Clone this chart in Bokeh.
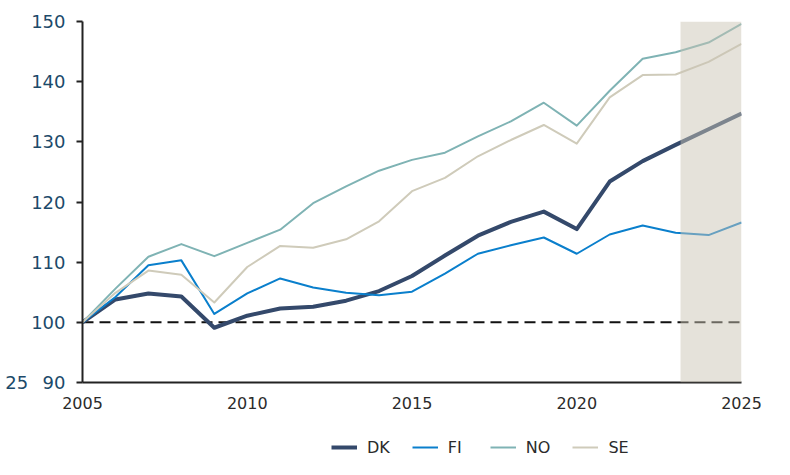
from bokeh.plotting import figure
from bokeh.layouts import column
from bokeh.models import (ColumnDataSource, BoxAnnotation, Span, Legend, LegendItem,
                          FixedTicker, Range1d)
from bokeh.embed import file_html
from bokeh.resources import INLINE

years = [2005, 2006, 2007, 2008, 2009, 2010, 2011, 2012, 2013, 2014, 2015,
         2016, 2017, 2018, 2019, 2020, 2021, 2022, 2023, 2024, 2025]
DK = [100, 103.8, 104.8, 104.3, 99.1, 101.1, 102.3, 102.6, 103.6, 105.2, 107.7,
      111.1, 114.4, 116.7, 118.4, 115.5, 123.4, 126.8, 129.5, 132.1, 134.7]
FI = [100, 104.2, 109.5, 110.3, 101.4, 104.8, 107.3, 105.8, 104.9, 104.5, 105.1,
      108.1, 111.4, 112.8, 114.1, 111.4, 114.6, 116.1, 114.9, 114.5, 116.6]
NO = [100, 105.6, 110.9, 113.0, 111.0, 113.2, 115.4, 119.8, 122.6, 125.2, 127.0,
      128.2, 130.9, 133.4, 136.5, 132.7, 138.5, 143.8, 144.9, 146.5, 149.6]
SE = [100, 104.9, 108.6, 107.9, 103.3, 109.2, 112.7, 112.4, 113.8, 116.8, 121.8,
      124.0, 127.6, 130.3, 132.8, 129.7, 137.4, 141.1, 141.2, 143.3, 146.3]
series_names = ["DK", "FI", "NO", "SE"]
colors = ["#34496b", "#0a7fcc", "#7fb3b4", "#cfcbba"]
widths = [4, 2, 2, 2]
forecast_start, forecast_end = 2023.15, 2025
baseline = 100
x_ticks = [2005, 2010, 2015, 2020, 2025]
y_ticks = [90, 100, 110, 120, 130, 140, 150]
stray_label = "25"

font = "DejaVu Sans"
src = ColumnDataSource(dict(x=years, DK=DK, FI=FI, NO=NO, SE=SE))

# ---------- main chart ----------
p = figure(width=774, height=420, output_backend="svg", toolbar_location=None,
           x_range=Range1d(2005, 2025), y_range=Range1d(90, 150),
           min_border_left=82, min_border_right=33, min_border_top=21,
           min_border_bottom=38)
p.background_fill_color = "white"
p.border_fill_color = "white"
p.outline_line_color = None
p.xgrid.grid_line_color = None
p.ygrid.grid_line_color = None

p.add_layout(Span(location=baseline, dimension="width", line_color="#111111",
                  line_width=2, line_dash="11 6", level="underlay"))

for name, c, w in zip(series_names, colors, widths):
    p.line("x", name, source=src, line_color=c, line_width=w, line_join="round")

p.add_layout(BoxAnnotation(left=forecast_start, right=forecast_end,
                           fill_color="#cac3b3", fill_alpha=0.49,
                           line_color=None))

p.xaxis.ticker = FixedTicker(ticks=x_ticks)
p.yaxis.ticker = FixedTicker(ticks=y_ticks)
for ax in (p.xaxis[0], p.yaxis[0]):
    ax.axis_line_color = "#222222"
    ax.axis_line_width = 2
    ax.minor_tick_line_color = None
    ax.major_label_text_font = font
p.xaxis.major_tick_line_color = None
p.xaxis.major_label_text_font_size = "16px"
p.xaxis.major_label_text_color = "#2b2b2b"
p.xaxis.major_label_standoff = 8
p.yaxis.major_tick_out = 6
p.yaxis.major_tick_in = 0
p.yaxis.major_tick_line_color = "#222222"
p.yaxis.major_tick_line_width = 2
p.yaxis.major_label_text_font_size = "18px"
p.yaxis.major_label_text_color = "#1c4a6a"
p.yaxis.major_label_standoff = 11

yax = p.yaxis[0]
yax.axis_label = stray_label
yax.axis_label_orientation = "horizontal"
yax.axis_label_text_font = font
yax.axis_label_text_font_size = "18px"
yax.axis_label_text_font_style = "normal"
yax.axis_label_text_color = "#1c4a6a"
yax.axis_label_standoff = 0
try:
    yax.axis_label_align = "start"
except Exception:
    pass

# ---------- legend strip (same series, drawn outside its own view) ----------
lg = figure(width=774, height=39, output_backend="svg", toolbar_location=None,
            x_range=Range1d(0, 1), y_range=Range1d(0, 1),
            x_axis_type=None, y_axis_type=None, min_border=0)
lg.outline_line_color = None
lg.xgrid.grid_line_color = None
lg.ygrid.grid_line_color = None
lg.background_fill_color = "white"
lg.border_fill_color = "white"

leg_renderers = []
for name, c, w in zip(series_names, colors, widths):
    r = lg.line("x", name, source=src, line_color=c, line_width=w)
    leg_renderers.append(r)

legend = Legend(items=[LegendItem(label=n, renderers=[r])
                       for n, r in zip(series_names, leg_renderers)],
                orientation="horizontal", location=(249, 2),
                label_text_font=font, label_text_font_size="16px",
                label_text_color="#2b2b2b", glyph_width=26, spacing=22,
                label_standoff=10, border_line_color=None, padding=6, margin=0,
                background_fill_alpha=0)
lg.add_layout(legend, "center")

layout = column(p, lg, spacing=0)
open("out.html", "w").write(file_html(layout, INLINE))
